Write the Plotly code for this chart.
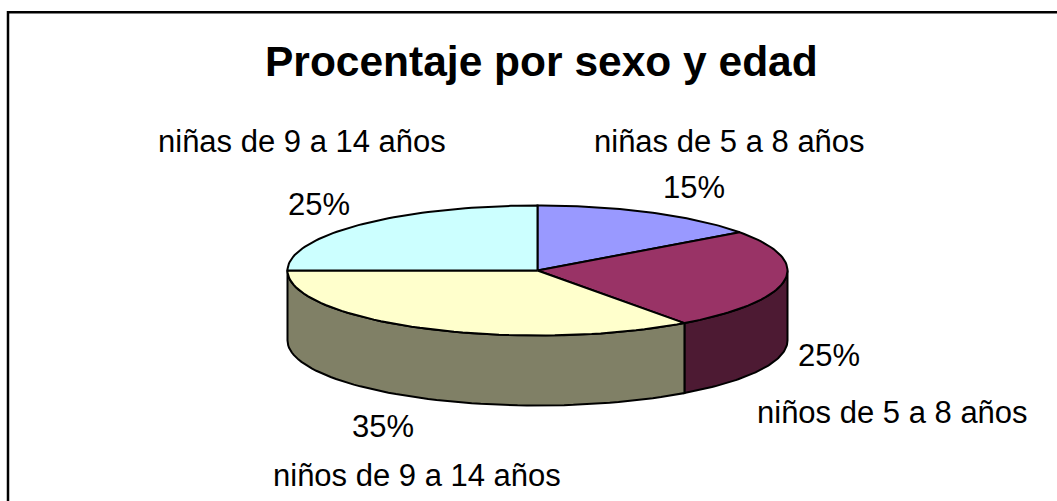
import numpy as np
import plotly.graph_objects as go

categories = ["niñas de 5 a 8 años", "niños de 5 a 8 años", "niños de 9 a 14 años", "niñas de 9 a 14 años"]
values = [15, 25, 35, 25]
top_colors = ["#9999FF", "#993366", "#FFFFCC", "#CCFFFF"]
side_colors = ["#4D4D80", "#4D1A33", "#808066", "#668080"]

CX, CY, A, B, DEPTH = 537.5, 270.5, 250, 65, 70
W, H = 1057, 501
FONT = "Liberation Sans, Arial, sans-serif"

def rim(t0, t1, n=60):
    t = np.radians(np.linspace(t0, t1, n))
    return CX + A * np.sin(t), CY - B * np.cos(t)

fig = go.Figure()
edges = np.concatenate([[0], np.cumsum(values)]) * 3.6

def poly(x, y, color):
    fig.add_trace(go.Scatter(x=np.append(x, x[0]), y=np.append(y, y[0]), mode="lines", fill="toself",
                             fillcolor=color, line=dict(color="black", width=2), hoverinfo="skip", showlegend=False))

# side walls of the visible front half
for i in range(len(values)):
    t0, t1 = max(edges[i], 90), min(edges[i + 1], 270)
    if t1 > t0:
        x, y = rim(t0, t1)
        poly(np.concatenate([x, x[::-1]]), np.concatenate([y, y[::-1] + DEPTH]), side_colors[i])
# top faces
for i in range(len(values)):
    x, y = rim(edges[i], edges[i + 1])
    poly(np.concatenate([[CX], x]), np.concatenate([[CY], y]), top_colors[i])

ann = [
    ("Procentaje por sexo y edad", 541, 61, 42.5, True),
    (categories[3], 302, 141, 31, False),
    (categories[0], 729, 141, 31, False),
    (f"{values[0]}%", 694, 187, 31, False),
    (f"{values[3]}%", 319, 204, 31, False),
    (f"{values[1]}%", 829, 355, 31, False),
    (categories[1], 892, 412, 31, False),
    (f"{values[2]}%", 383, 426, 31, False),
    (categories[2], 417, 475, 31, False),
]
for text, x, y, size, bold in ann:
    fig.add_annotation(x=x, y=y, text=f"<b>{text}</b>" if bold else text, showarrow=False,
                       xanchor="center", yanchor="middle", font=dict(family=FONT, size=size, color="black"))

fig.update_layout(
    width=W, height=H, margin=dict(l=0, r=0, t=0, b=0), paper_bgcolor="white", plot_bgcolor="white",
    xaxis=dict(range=[0, W], visible=False, fixedrange=True),
    yaxis=dict(range=[H, 0], visible=False, fixedrange=True),
    shapes=[dict(type="rect", x0=8, y0=12.3, x1=W + 20, y1=H + 20, line=dict(color="black", width=2.5), layer="below")],
)
fig.write_html("out.html", config={"displayModeBar": False},
               post_script="document.body.style.margin='0';document.documentElement.style.overflow='hidden';")
